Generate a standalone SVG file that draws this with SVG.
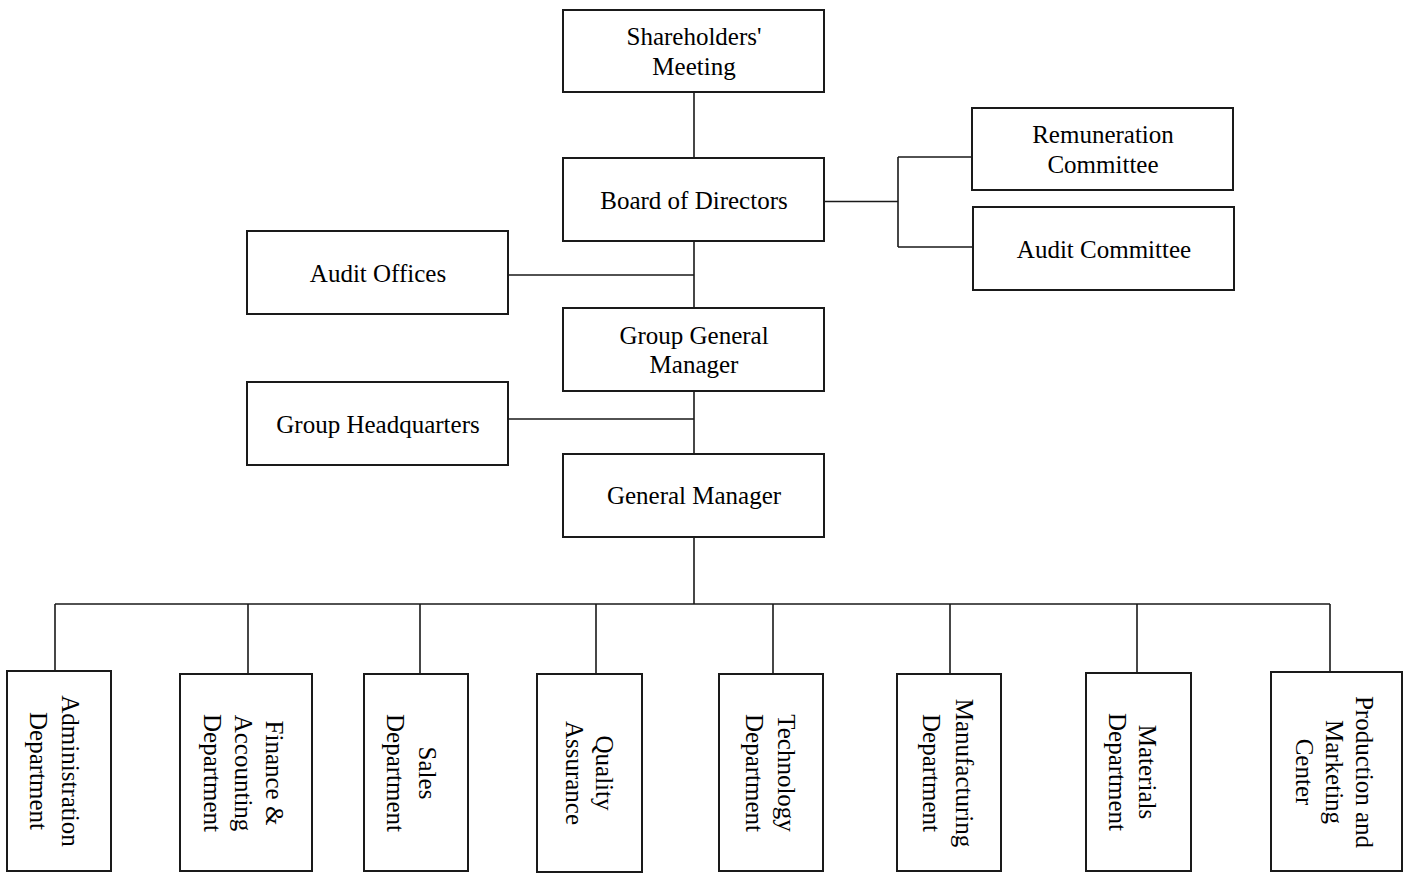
<svg xmlns="http://www.w3.org/2000/svg" width="1408" height="873" viewBox="0 0 1408 873">
<style>
.box{fill:#fff;stroke:#1a1a1a;stroke-width:2}
.ln{fill:none;stroke:#1a1a1a;stroke-width:1.6}
text{font-family:"Liberation Serif","Times New Roman",serif;font-size:25px;fill:#000;text-anchor:middle;dominant-baseline:central}
</style>
<rect width="1408" height="873" fill="#fff"/>
<g id="connectors">
<path class="ln" d="M694 92V158M694 241V308M508 275H694M694 391V454M508 419H694M694 537V604M55 604H1330"/>
<path class="ln" d="M824 201.5H898M898 157V247M898 157H972M898 247H973"/>
<path class="ln" d="M55 604V671M248 604V674M420 604V674M596 604V674M773 604V674M950 604V674M1137 604V673M1330 604V672"/>
</g>
<g id="shareholders"><rect class="box" x="563" y="10" width="261" height="82"/><text x="694" y="36">Shareholders'</text><text x="694" y="66">Meeting</text></g>
<g id="board"><rect class="box" x="563" y="158" width="261" height="83"/><text x="694" y="200">Board of Directors</text></g>
<g id="remuneration"><rect class="box" x="972" y="108" width="261" height="82"/><text x="1103" y="134">Remuneration</text><text x="1103" y="164">Committee</text></g>
<g id="auditcommittee"><rect class="box" x="973" y="207" width="261" height="83"/><text x="1104" y="249">Audit Committee</text></g>
<g id="auditoffices"><rect class="box" x="247" y="231" width="261" height="83"/><text x="378" y="273">Audit Offices</text></g>
<g id="ggm"><rect class="box" x="563" y="308" width="261" height="83"/><text x="694" y="335">Group General</text><text x="694" y="364">Manager</text></g>
<g id="ghq"><rect class="box" x="247" y="382" width="261" height="83"/><text x="378" y="424">Group Headquarters</text></g>
<g id="gm"><rect class="box" x="563" y="454" width="261" height="83"/><text x="694" y="495">General Manager</text></g>
<g id="admin"><rect class="box" x="7" y="671" width="104" height="200"/><text transform="translate(55,771) rotate(90)"><tspan x="0" y="-16">Administration</tspan><tspan x="0" y="16">Department</tspan></text></g>
<g id="finance"><rect class="box" x="180" y="674" width="132" height="197"/><text transform="translate(244,773) rotate(90)"><tspan x="0" y="-31">Finance &amp;</tspan><tspan x="0" y="0">Accounting</tspan><tspan x="0" y="31">Department</tspan></text></g>
<g id="sales"><rect class="box" x="364" y="674" width="104" height="197"/><text transform="translate(412,773) rotate(90)"><tspan x="0" y="-16">Sales</tspan><tspan x="0" y="16">Department</tspan></text></g>
<g id="quality"><rect class="box" x="537" y="674" width="105" height="198"/><text transform="translate(590,773) rotate(90)"><tspan x="0" y="-15">Quality</tspan><tspan x="0" y="15">Assurance</tspan></text></g>
<g id="technology"><rect class="box" x="719" y="674" width="104" height="197"/><text transform="translate(771,773) rotate(90)"><tspan x="0" y="-16">Technology</tspan><tspan x="0" y="16">Department</tspan></text></g>
<g id="manufacturing"><rect class="box" x="897" y="674" width="104" height="197"/><text transform="translate(948,773) rotate(90)"><tspan x="0" y="-17">Manufacturing</tspan><tspan x="0" y="16">Department</tspan></text></g>
<g id="materials"><rect class="box" x="1086" y="673" width="105" height="198"/><text transform="translate(1133,772) rotate(90)"><tspan x="0" y="-15">Materials</tspan><tspan x="0" y="15">Department</tspan></text></g>
<g id="production"><rect class="box" x="1271" y="672" width="131" height="199"/><text transform="translate(1335,772) rotate(90)"><tspan x="0" y="-30">Production and</tspan><tspan x="0" y="0">Marketing</tspan><tspan x="0" y="30">Center</tspan></text></g>
</svg>
